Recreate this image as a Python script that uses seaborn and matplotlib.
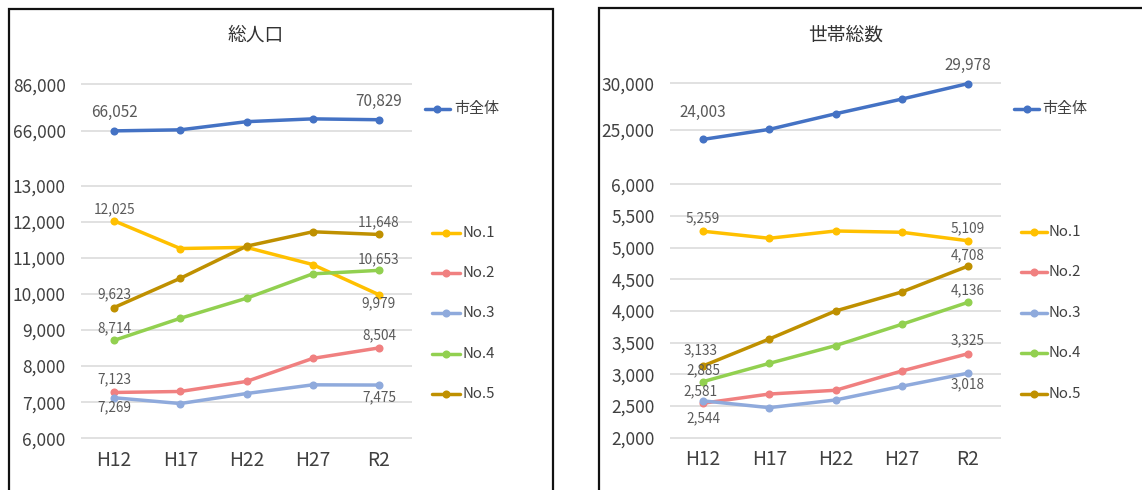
import numpy as np
import pandas as pd
import matplotlib
matplotlib.use('Agg')
import matplotlib.pyplot as plt
import seaborn as sns
from matplotlib.lines import Line2D
from matplotlib.patches import Rectangle
from matplotlib.ticker import FuncFormatter

# ---------------- data ----------------
years = ['H12', 'H17', 'H22', 'H27', 'R2']
series_names = ['市全体', 'No.1', 'No.2', 'No.3', 'No.4', 'No.5']

pop_city = [66052, 66500, 70000, 71200, 70829]
pop_no1 = [12025, 11258, 11290, 10814, 9979]
pop_no2 = [7269, 7297, 7575, 8213, 8504]
pop_no3 = [7123, 6963, 7240, 7481, 7475]
pop_no4 = [8714, 9325, 9880, 10556, 10653]
pop_no5 = [9623, 10433, 11322, 11722, 11648]

hh_city = [24003, 25075, 26744, 28317, 29978]
hh_no1 = [5259, 5148, 5263, 5243, 5109]
hh_no2 = [2544, 2689, 2748, 3052, 3325]
hh_no3 = [2581, 2474, 2595, 2811, 3018]
hh_no4 = [2885, 3173, 3453, 3789, 4136]
hh_no5 = [3133, 3558, 4000, 4300, 4708]

pop_top_ticks = [66000, 86000]
pop_bottom_ticks = [6000, 7000, 8000, 9000, 10000, 11000, 12000, 13000]
hh_top_ticks = [25000, 30000]
hh_bottom_ticks = [2000, 2500, 3000, 3500, 4000, 4500, 5000, 5500, 6000]
titles = ['総人口', '世帯総数']

# ---------------- styles ----------------
colors = {'市全体': '#4472C4', 'No.1': '#FFC000', 'No.2': '#F08080',
          'No.3': '#8FAADC', 'No.4': '#92D050', 'No.5': '#BF9000'}

sns.set_style('white')
plt.rcParams['font.family'] = ['Noto Sans CJK JP', 'DejaVu Sans']

W, H = 1142, 490
fig = plt.figure(figsize=(W / 100, H / 100), dpi=100)
fig.patch.set_facecolor('white')


def fx(x):
    return x / W


def fy(y):
    return 1 - y / H


def add_ax(x0, x1, ytop, ybot):
    return fig.add_axes([fx(x0), fy(ybot), (x1 - x0) / W, (ybot - ytop) / H])


def long_df(names, arrays):
    rows = []
    for n, arr in zip(names, arrays):
        for yr, v in zip(years, arr):
            rows.append({'year': yr, 'value': v, 'series': n})
    return pd.DataFrame(rows)


fmt = FuncFormatter(lambda v, p: f'{v:,.0f}')


def style_ax(ax, ticks, ylim, show_x):
    ax.set_xlim(-0.5, 4.5)
    ax.set_ylim(*ylim)
    ax.set_yticks(ticks)
    ax.yaxis.set_major_formatter(fmt)
    ax.yaxis.grid(True, color='#D9D9D9', lw=1.1)
    ax.xaxis.grid(False)
    ax.set_axisbelow(True)
    for s in ax.spines.values():
        s.set_visible(False)
    ax.tick_params(axis='y', length=0, pad=11, labelsize=12.5, labelcolor='#404040')
    ax.tick_params(axis='x', length=0, pad=3.5, labelsize=13.8, labelcolor='#404040')
    ax.set_xlabel('')
    ax.set_ylabel('')
    ax.patch.set_alpha(0)
    if not show_x:
        ax.set_xticks([])


def draw_lines(ax, df, names):
    sns.lineplot(data=df, x='year', y='value', hue='series', hue_order=names,
                 palette=[colors[n] for n in names], marker='o', markersize=5.8,
                 markeredgewidth=0, linewidth=2.5, legend=False, sort=False, ax=ax)


def label(ax, df, name, idx, dx, dy, size):
    v = df[(df.series == name) & (df.year == years[idx])]['value'].iloc[0]
    ax.annotate(f'{v:,}', (idx, v), xytext=(dx * 0.72, dy * 0.72),
                textcoords='offset points', ha='center', va='center',
                fontsize=size, color='#595959')


panels = [
    dict(city=pop_city, dist=[pop_no1, pop_no2, pop_no3, pop_no4, pop_no5],
         x0=81, x1=412, top=(75, 145, (60000, 90000), pop_top_ticks),
         bot=(164, 445.5, (5800, 13600), pop_bottom_ticks),
         title=titles[0], title_x=256,
         labels=[('市全体', 0, 0, 18, 11), ('市全体', 4, 0, 18, 11),
                 ('No.1', 0, 0, 12, 9.8), ('No.1', 4, 0, -9, 9.8),
                 ('No.5', 0, 0, 13, 9.8), ('No.5', 4, 0, 12, 9.8),
                 ('No.4', 0, 0, 12, 9.8), ('No.4', 4, 0, 11, 9.8),
                 ('No.2', 0, 0, -15, 9.8), ('No.2', 4, 0, 13, 9.8),
                 ('No.3', 0, 0, 18, 9.8), ('No.3', 4, 0, -12, 9.8)],
         leg_city=(425, 450, 454, 109), leg_dist=(432, 460, 462),
         leg_ys=[233, 272.7, 313, 353.7, 394],
         frame=(9, 9, 553, 520)),
    dict(city=hh_city, dist=[hh_no1, hh_no2, hh_no3, hh_no4, hh_no5],
         x0=670, x1=1001, top=(75, 145, (23400, 30900), hh_top_ticks),
         bot=(165.3, 444, (1900, 6300), hh_bottom_ticks),
         title=titles[1], title_x=846,
         labels=[('市全体', 0, 0, 27, 11), ('市全体', 4, 0, 18, 11),
                 ('No.1', 0, 0, 13, 9.8), ('No.1', 4, 0, 12, 9.8),
                 ('No.5', 0, -2, 16, 9.8), ('No.5', 4, 0, 11, 9.8),
                 ('No.4', 0, 0, 11, 9.8), ('No.4', 4, 0, 12, 9.8),
                 ('No.2', 0, 0, -15, 9.8), ('No.2', 4, 0, 13, 9.8),
                 ('No.3', 0, -3, 10, 9.8), ('No.3', 4, 0, -11, 9.8)],
         leg_city=(1014, 1039, 1042, 109), leg_dist=(1021, 1047, 1049),
         leg_ys=[231.7, 271.7, 312.7, 353.3, 394],
         frame=(599, 8, 1160, 520)),
]

for p in panels:
    ytop, ybot, ylim, ticks = p['top']
    ax_t = add_ax(p['x0'], p['x1'], ytop, ybot)
    df_t = long_df(['市全体'], [p['city']])
    draw_lines(ax_t, df_t, ['市全体'])
    style_ax(ax_t, ticks, ylim, False)

    ytop, ybot, ylim, ticks = p['bot']
    ax_b = add_ax(p['x0'], p['x1'], ytop, ybot)
    dnames = series_names[1:]
    df_b = long_df(dnames, p['dist'])
    draw_lines(ax_b, df_b, dnames)
    style_ax(ax_b, ticks, ylim, True)

    for (name, idx, dx, dy, size) in p['labels']:
        if name == '市全体':
            label(ax_t, df_t, name, idx, dx, dy, size)
        else:
            label(ax_b, df_b, name, idx, dx, dy, size)

    fig.text(fx(p['title_x']), fy(35), p['title'], ha='center', va='center',
             fontsize=13.5, color='#333333')

    # legend entries
    lx0, lx1, tx, ly = p['leg_city']
    fig.add_artist(Line2D([fx(lx0), fx(lx1)], [fy(ly), fy(ly)], color=colors['市全体'],
                          lw=2.5, transform=fig.transFigure))
    fig.add_artist(Line2D([fx((lx0 + lx1) / 2)], [fy(ly)], color=colors['市全体'],
                          marker='o', markersize=5.8, markeredgewidth=0,
                          transform=fig.transFigure))
    fig.text(fx(tx), fy(ly), '市全体', ha='left', va='center', fontsize=10.8, color='#404040')
    lx0, lx1, tx = p['leg_dist']
    for name, ly in zip(dnames, p['leg_ys']):
        fig.add_artist(Line2D([fx(lx0), fx(lx1)], [fy(ly), fy(ly)], color=colors[name],
                              lw=2.5, transform=fig.transFigure))
        fig.add_artist(Line2D([fx((lx0 + lx1) / 2)], [fy(ly)], color=colors[name],
                              marker='o', markersize=5.8, markeredgewidth=0,
                              transform=fig.transFigure))
        fig.text(fx(tx), fy(ly), name, ha='left', va='center', fontsize=10.8, color='#404040')

    x0, y0, x1, y1 = p['frame']
    fig.add_artist(Rectangle((fx(x0), fy(y1)), (x1 - x0) / W, (y1 - y0) / H,
                             fill=False, edgecolor='#111111', lw=1.6,
                             transform=fig.transFigure, clip_on=False))

fig.savefig('out.png', dpi=100, facecolor='white')
